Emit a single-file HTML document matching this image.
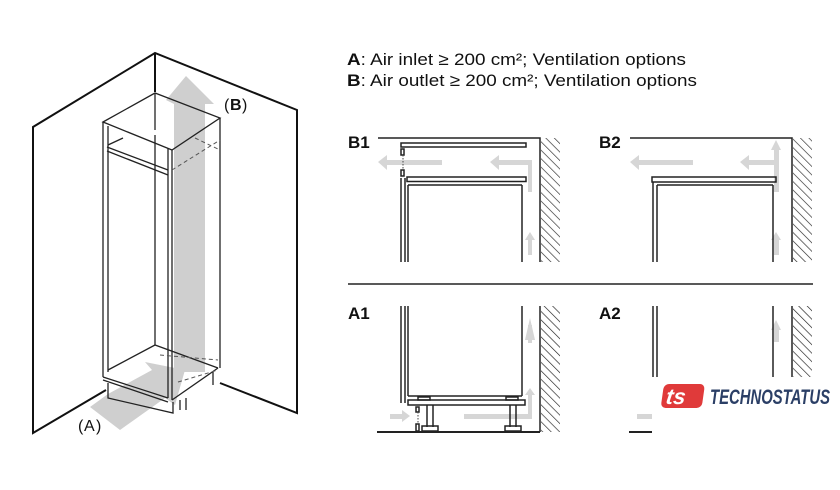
<!DOCTYPE html>
<html><head><meta charset="utf-8"><style>
html,body{margin:0;padding:0;background:#fff;}
svg{display:block;}
text{font-family:"Liberation Sans",sans-serif;}
</style></head><body>
<svg width="840" height="490" viewBox="0 0 840 490" xmlns="http://www.w3.org/2000/svg">
<defs>
<pattern id="h" width="6" height="6" patternUnits="userSpaceOnUse" patternTransform="rotate(-45)">
<line x1="0" y1="0" x2="0" y2="6" stroke="#222" stroke-width="1.3"/>
</pattern>
</defs>
<rect width="840" height="490" fill="#fff"/>

<g fill="none" stroke="#111" stroke-width="2">
<polyline points="106,390 33,433 33,127 155,53 297,110 297,413 220,383"/>
<line x1="155" y1="53" x2="155" y2="92"/>
</g>
<g fill="#cfcfcf">
<polygon points="174,104 166,100 186,76 214,104 205,104 205,372 174,372"/>
<polygon points="90,407 120,430 165,398 175,405 185,370 145,362 152,370 108,394"/>
</g>
<g fill="none" stroke="#222" stroke-width="1.3">
<polygon points="103,122 155,93 220,118 172,150"/>
<line x1="103" y1="122" x2="103" y2="377"/>
<line x1="108" y1="126" x2="108" y2="372"/>
<line x1="172" y1="150" x2="172" y2="400"/>
<line x1="168" y1="148" x2="168" y2="398"/>
<line x1="220" y1="118" x2="220" y2="368"/>
<line x1="172" y1="400" x2="218" y2="368"/>
<line x1="155" y1="93" x2="155" y2="130"/>
<line x1="155" y1="135" x2="155" y2="345"/>
<polyline points="108,145 123,138"/>
<polyline points="107,147 168,170"/>
<polyline points="107,151 168,175"/>
<polyline points="108,370 155,345 218,368"/>
<polyline points="103,377 168,398"/>
<polyline points="103,380 168,402"/>
<polyline points="108,383 108,398 173,413 173,402"/>
<line x1="180" y1="400" x2="180" y2="410"/>
<line x1="186" y1="398" x2="186" y2="410"/>
<line x1="213" y1="372" x2="213" y2="385"/>
</g>
<g fill="none" stroke="#555" stroke-width="1" stroke-dasharray="4,3">
<line x1="172" y1="170" x2="220" y2="140"/>
<line x1="195" y1="138" x2="220" y2="150"/>
<line x1="178" y1="382" x2="218" y2="370"/>
<line x1="160" y1="355" x2="218" y2="360"/>
</g>
<text x="224" y="110" font-size="16" fill="#111">(</text><text x="230" y="110" font-size="16" font-weight="bold" fill="#111">B</text><text x="242" y="110" font-size="16" fill="#111">)</text>
<text x="78" y="431" font-size="16" fill="#111">(</text><text x="84" y="431" font-size="16" fill="#111">A</text><text x="96" y="431" font-size="16" fill="#111">)</text>

<text x="347" y="65" font-size="17" fill="#111" textLength="339" lengthAdjust="spacingAndGlyphs"><tspan font-weight="bold">A</tspan>: Air inlet ≥ 200 cm²; Ventilation options</text>
<text x="347" y="86" font-size="17" fill="#111" textLength="350" lengthAdjust="spacingAndGlyphs"><tspan font-weight="bold">B</tspan>: Air outlet ≥ 200 cm²; Ventilation options</text>

<g font-size="17" font-weight="bold" fill="#111">
<text x="348" y="148">B1</text><text x="599" y="148">B2</text>
<text x="348" y="319">A1</text><text x="599" y="319">A2</text>
</g>
<line x1="348" y1="284" x2="813" y2="284" stroke="#222" stroke-width="1.5"/>

<g fill="#d6d6d6">
<polygon points="378,162 387,155 387,160 442,160 442,165 387,165 387,170"/>
<polygon points="490,162 499,155 499,160 532,160 532,192 528,192 528,165 499,165 499,170"/>
<polygon points="528,240 525,240 530,232 535,240 532,240 532,255 528,255"/>
<polygon points="630,162 639,155 639,160 693,160 693,165 639,165 639,170"/>
<polygon points="740,162 749,155 749,160 774,160 774,150 771,150 776,140 781,150 779,150 779,192 774,192 774,165 749,165 749,170"/>
<polygon points="774,240 771,240 776,232 781,240 779,240 779,255 774,255"/>
<polygon points="528,340 525,340 530,318 535,340 532,340 532,342 528,342"/>
<rect x="528" y="325" width="4" height="18"/>
<polygon points="464,414 528,414 528,395 525,395 530,388 535,395 532,395 532,419 464,419"/>
<polygon points="390,414 402,414 402,410 410,416 402,422 402,419 390,419"/>
<polygon points="776,320 771,330 774,330 774,342 779,342 779,330 781,330"/>
<rect x="637" y="414" width="15" height="5"/>
</g>

<g fill="none" stroke="#222" stroke-width="1.5">
<polyline points="378,138 540,138 540,262"/>
<rect x="401" y="143" width="125" height="4"/>
<rect x="407" y="177" width="119" height="4.5"/>
<line x1="401" y1="178" x2="401" y2="262"/>
<line x1="405" y1="178" x2="405" y2="262"/>
<line x1="408" y1="185" x2="408" y2="262"/>
<line x1="408" y1="185" x2="522" y2="185"/>
<line x1="522" y1="185" x2="522" y2="262"/>
<rect x="401" y="149" width="3" height="6"/>
<rect x="401" y="170" width="3" height="6"/>
</g>
<line x1="403" y1="155" x2="403" y2="170" stroke="#444" stroke-dasharray="1.5,1.5"/>
<rect x="541" y="138" width="19" height="124" fill="url(#h)"/>

<g fill="none" stroke="#222" stroke-width="1.5">
<polyline points="630,138 792,138 792,262"/>
<rect x="652" y="177" width="124" height="5"/>
<line x1="653" y1="182" x2="653" y2="262"/>
<line x1="657" y1="185" x2="657" y2="262"/>
<line x1="657" y1="185" x2="773" y2="185"/>
<line x1="773" y1="185" x2="773" y2="262"/>
</g>
<rect x="793" y="138" width="19" height="124" fill="url(#h)"/>

<g fill="none" stroke="#222" stroke-width="1.5">
<line x1="401" y1="306" x2="401" y2="403"/>
<line x1="405" y1="306" x2="405" y2="403"/>
<line x1="408" y1="306" x2="408" y2="396"/>
<line x1="522" y1="306" x2="522" y2="396"/>
<line x1="408" y1="396" x2="522" y2="396"/>
<rect x="408" y="400" width="117" height="5"/>
<rect x="418" y="397" width="12" height="3"/>
<rect x="506" y="397" width="12" height="3"/>
<line x1="427" y1="405" x2="427" y2="427"/>
<line x1="433" y1="405" x2="433" y2="427"/>
<rect x="422" y="426" width="16" height="5"/>
<line x1="510" y1="405" x2="510" y2="427"/>
<line x1="516" y1="405" x2="516" y2="427"/>
<rect x="505" y="426" width="16" height="5"/>
<rect x="416" y="407" width="3" height="5"/>
<rect x="416" y="424" width="3" height="7"/>
<polyline points="540,306 540,432"/>
</g>
<line x1="377" y1="432" x2="540" y2="432" stroke="#222" stroke-width="2"/>
<line x1="418" y1="412" x2="418" y2="424" stroke="#444" stroke-dasharray="1.5,1.5"/>
<rect x="541" y="306" width="19" height="126" fill="url(#h)"/>

<g fill="none" stroke="#222" stroke-width="1.5">
<line x1="653" y1="306" x2="653" y2="380"/>
<line x1="657" y1="306" x2="657" y2="380"/>
<line x1="773" y1="306" x2="773" y2="380"/>
<line x1="792" y1="306" x2="792" y2="380"/>
</g>
<rect x="793" y="306" width="19" height="74" fill="url(#h)"/>
<line x1="629" y1="432" x2="652" y2="432" stroke="#222" stroke-width="2"/>

<rect x="652" y="377" width="188" height="70" fill="#fff"/>
<g transform="translate(662,384) skewX(-8)">
<rect x="2" y="0" width="41" height="24" rx="5" fill="#e03a3a"/>
<text x="6" y="20" font-size="22" font-weight="bold" fill="#fff" font-style="italic">ts</text>
</g>
<text x="710" y="404" font-size="21" font-weight="bold" font-style="italic" fill="#2b3f66" textLength="120" lengthAdjust="spacingAndGlyphs" style="font-family:'Liberation Sans Narrow','Liberation Sans',sans-serif">TECHNOSTATUS</text>
</svg>
</body></html>
